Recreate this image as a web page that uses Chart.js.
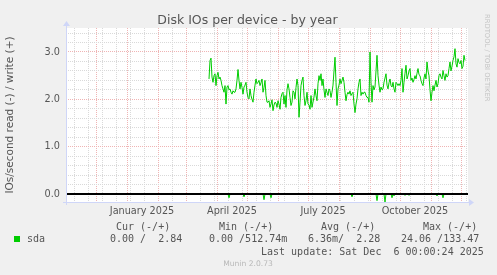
<!DOCTYPE html>
<html>
<head>
<meta charset="utf-8">
<script src="https://cdn.jsdelivr.net/npm/chart.js@4"></script>
<style>
  body { margin: 0; background: #f0f0f0; }
  #wrap { position: relative; width: 497px; height: 275px; background: #f0f0f0; overflow: hidden; }
  #wrap canvas { position: absolute; left: 0; top: 0; }
  .t { position: absolute; white-space: pre; color: #555; font-family: "DejaVu Sans", sans-serif; }
  .m { font-family: "DejaVu Sans Mono", monospace; font-size: 10px; line-height: 12px; }
</style>
</head>
<body>
<div id="wrap">
  <canvas id="myChart" width="497" height="275"></canvas>
  <div class="t" style="left:0;width:495px;top:12px;text-align:center;font-size:12.5px;line-height:15px;">Disk IOs per device - by year</div>
  <div class="t" style="left:483px;top:14px;font-size:6.8px;writing-mode:vertical-rl;color:#c4c4c4;">RRDTOOL / TOBI OETIKER</div>

  <div class="t m" style="left:116px;top:221px;">Cur (-/+)</div>
  <div class="t m" style="left:219px;top:221px;">Min (-/+)</div>
  <div class="t m" style="left:321px;top:221px;">Avg (-/+)</div>
  <div class="t m" style="left:423px;top:221px;">Max (-/+)</div>

  <div style="position:absolute;left:14px;top:236px;width:6px;height:6px;background:#00cc00;"></div>
  <div class="t m" style="left:27px;top:233px;">sda</div>
  <div class="t m" style="left:110px;top:233px;">0.00 /  2.84</div>
  <div class="t m" style="left:209px;top:233px;">0.00 /512.74m</div>
  <div class="t m" style="left:308px;top:233px;">6.36m/  2.28</div>
  <div class="t m" style="left:401px;top:233px;">24.06 /133.47</div>

  <div class="t m" style="left:261px;top:245.5px;">Last update: Sat Dec  6 00:00:24 2025</div>
  <div class="t" style="left:0;width:496px;top:259px;text-align:center;font-size:7.6px;line-height:10px;color:#b8b8b8;">Munin 2.0.73</div>
</div>
<script>
// day 0 = 1 Nov 2024, last update = day 400
const dayMin = 0;
const dayMax = 400;

// daily writes (IOs/s), first sample on day 143
const writeStart = 143;
const writes = [
  2.43, 2.82, 2.87, 2.47, 2.36, 2.50, 2.54, 2.29, 2.50, 2.57,
  2.43, 2.47, 2.40, 2.29, 2.22, 2.15, 2.29, 1.90, 2.26, 2.29,
  2.20, 2.22, 2.15, 2.11, 2.18, 2.15, 2.15, 2.22, 2.40, 2.63,
  2.40, 2.22, 2.36, 2.25, 2.11, 2.26, 2.30, 2.36, 2.15, 2.04,
  2.01, 2.22, 2.08, 2.00, 1.94, 2.15, 2.30, 2.43, 2.33, 2.36,
  2.40, 2.29, 2.35, 2.43, 2.15, 2.25, 2.40, 2.08, 1.94, 1.94,
  1.97, 1.83, 1.90, 1.99, 1.76, 1.88, 1.94, 1.92, 1.83, 1.97,
  1.90, 1.79, 2.04, 2.12, 2.15, 1.90, 2.08, 1.83, 2.20, 2.33,
  2.22, 2.04, 1.87, 1.94, 2.18, 2.15, 2.01, 2.25, 2.43, 2.29,
  1.62, 1.94, 2.29, 2.40, 2.47, 2.08, 1.87, 1.97, 2.15, 1.90,
  1.88, 1.79, 2.08, 1.83, 1.94, 2.05, 2.22, 2.08, 1.97, 2.33,
  2.50, 2.40, 2.54, 2.29, 2.43, 2.20, 2.04, 2.22, 2.15, 2.08,
  2.22, 2.18, 2.04, 2.15, 2.30, 2.60, 2.89, 2.36, 1.87, 2.22,
  2.30, 2.43, 2.33, 2.40, 2.47, 2.36, 2.15, 1.97, 2.10, 2.15,
  2.11, 2.18, 2.08, 2.12, 2.15, 1.90, 1.72, 1.90, 2.01, 2.22,
  2.36, 2.43, 2.08, 2.15, 2.11, 2.15, 2.15, 2.08, 2.04, 2.04,
  1.94, 3.00, 2.36, 1.94, 2.29, 2.20, 2.26, 2.60, 2.93, 2.50,
  2.30, 2.15, 2.26, 2.20, 2.22, 2.36, 2.45, 2.54, 2.30, 2.22,
  2.35, 2.43, 2.29, 2.26, 2.36, 2.22, 2.15, 2.36, 2.33, 2.29,
  2.33, 2.29, 2.40, 2.65, 2.15, 2.36, 2.55, 2.72, 2.43, 2.50,
  2.60, 2.65, 2.40, 2.45, 2.36, 2.42, 2.50, 2.43, 2.55, 2.65,
  2.52, 2.50, 2.40, 2.33, 2.29, 2.45, 2.54, 2.43, 2.79, 2.60,
  2.50, 2.20, 1.97, 2.15, 2.29, 2.18, 2.30, 2.40, 2.26, 2.33,
  2.50, 2.54, 2.47, 2.43, 2.61, 2.50, 2.40, 2.54, 2.47, 2.50,
  2.65, 2.79, 2.60, 2.70, 2.82, 2.90, 3.07, 2.75, 2.68, 2.86,
  2.78, 2.75, 2.82, 2.65, 2.70, 2.93, 2.82
];

// reads are drawn negative; zero on every other day
const readDays = [163, 178, 198, 205, 255, 262, 286, 311, 319, 326, 328, 339, 343, 371, 377];
const readDips = [0.08, 0.06, 0.12, 0.08, 0.02, 0.02, 0.06, 0.14, 0.17, 0.08, 0.04, 0.03, 0.03, 0.04, 0.08];

// axis ticks
const monthStarts = [30, 61, 92, 120, 151, 181, 212, 242, 273, 304, 334, 365, 395];
const minorDays = [8, 22, 36, 50, 64, 78, 106, 134, 148, 162, 176, 190, 204, 218, 232, 246,
                   260, 274, 288, 302, 316, 330, 344, 358, 372, 386, 400];
const labelDays = [76, 166, 257, 349];
const labelTexts = ['January 2025', 'April 2025', 'July 2025', 'October 2025'];
const yGrid = [0, 0.2, 0.4, 0.6, 0.8, 1, 1.2, 1.4, 1.6, 1.8, 2, 2.2, 2.4, 2.6, 2.8, 3, 3.2, 3.4];
const yLabels = [0, 1, 2, 3];

const green = '#00cc00';
const minorCol = '#d9d9d9';
const majorCol = '#efb4b4';

const writePts = writes.map((v, i) => ({ x: writeStart + i, y: v }));
const readPts = writes.map((v, i) => {
  const k = readDays.indexOf(writeStart + i);
  return { x: writeStart + i, y: k < 0 ? 0 : -readDips[k] };
});

const munin = {
  id: 'munin',
  beforeDraw(chart) {
    const { ctx, chartArea: a } = chart;
    ctx.save();
    ctx.fillStyle = '#ffffff';
    ctx.fillRect(a.left, a.top, a.right - a.left + 2, a.bottom - a.top);
    ctx.restore();
  },
  afterDatasetsDraw(chart) {
    const { ctx, chartArea: a, scales } = chart;
    const y0 = Math.round(scales.y.getPixelForValue(0));
    ctx.save();
    // zero rule
    ctx.fillStyle = '#000000';
    ctx.fillRect(a.left + 1, y0 - 1, a.right - a.left + 1, 2);
    // axes with arrows
    ctx.strokeStyle = '#cfd6f8';
    ctx.fillStyle = '#cfd6f8';
    ctx.lineWidth = 1;
    const lx = a.left + 0.5;
    const by = a.bottom + 0.5;
    ctx.beginPath();
    ctx.moveTo(lx, a.top - 3);
    ctx.lineTo(lx, a.bottom + 3);
    ctx.moveTo(a.left - 3, by);
    ctx.lineTo(a.right + 4, by);
    ctx.stroke();
    ctx.beginPath();
    ctx.moveTo(lx - 3.5, a.top - 2);
    ctx.lineTo(lx + 3.5, a.top - 2);
    ctx.lineTo(lx, a.top - 7);
    ctx.closePath();
    ctx.fill();
    ctx.beginPath();
    ctx.moveTo(a.right + 3, by - 3.5);
    ctx.lineTo(a.right + 3, by + 3.5);
    ctx.lineTo(a.right + 8, by);
    ctx.closePath();
    ctx.fill();
    ctx.restore();
  }
};

const grafica = document.getElementById('myChart').getContext('2d');

new Chart(grafica, {
  type: 'line',
  data: {
    datasets: [
      {
        label: 'sda read',
        data: readPts,
        borderColor: green,
        borderWidth: 1,
        pointRadius: 0,
        tension: 0,
        fill: false
      },
      {
        label: 'sda write',
        data: writePts,
        borderColor: green,
        borderWidth: 1,
        pointRadius: 0,
        tension: 0,
        fill: false
      }
    ]
  },
  options: {
    responsive: false,
    animation: false,
    events: [],
    layout: { padding: { left: 0, top: 28, right: 31, bottom: 51 } },
    plugins: {
      legend: { display: false },
      tooltip: { enabled: false },
      title: { display: false }
    },
    scales: {
      x: {
        type: 'linear',
        min: dayMin,
        max: dayMax,
        afterBuildTicks: s => {
          const all = [];
          monthStarts.forEach(v => all.push(v));
          minorDays.forEach(v => { if (!monthStarts.includes(v)) all.push(v); });
          labelDays.forEach(v => all.push(v));
          all.sort((p, q) => p - q);
          s.ticks = all.map(v => ({ value: v }));
        },
        afterFit: s => { s.height = 22; },
        grid: {
          drawTicks: false,
          lineWidth: 1,
          color: c => {
            const v = c.tick ? c.tick.value : null;
            if (monthStarts.includes(v)) return majorCol;
            if (labelDays.includes(v)) return 'rgba(0,0,0,0)';
            return minorCol;
          }
        },
        border: { display: false, dash: [1, 1] },
        ticks: {
          autoSkip: false,
          maxRotation: 0,
          padding: 4,
          color: '#555',
          font: { family: 'DejaVu Sans', size: 9.7 },
          callback: v => {
            const k = labelDays.indexOf(v);
            return k < 0 ? '' : labelTexts[k];
          }
        }
      },
      y: {
        type: 'linear',
        min: -0.169,
        max: 3.507,
        afterBuildTicks: s => { s.ticks = yGrid.map(v => ({ value: v })); },
        afterFit: s => { s.width = 66; },
        grid: {
          drawTicks: false,
          lineWidth: 1,
          color: c => (c.tick && yLabels.includes(c.tick.value)) ? majorCol : minorCol
        },
        border: { display: false, dash: [1, 1] },
        title: {
          display: true,
          text: 'IOs/second read (-) / write (+)',
          color: '#555',
          font: { family: 'DejaVu Sans', size: 10.5 },
          padding: { top: 4, bottom: 0 }
        },
        ticks: {
          autoSkip: false,
          padding: 6,
          color: '#555',
          font: { family: 'DejaVu Sans', size: 9.7 },
          callback: v => yLabels.includes(v) ? v.toFixed(1) : ''
        }
      }
    }
  },
  plugins: [munin]
});
</script>
</body>
</html>
